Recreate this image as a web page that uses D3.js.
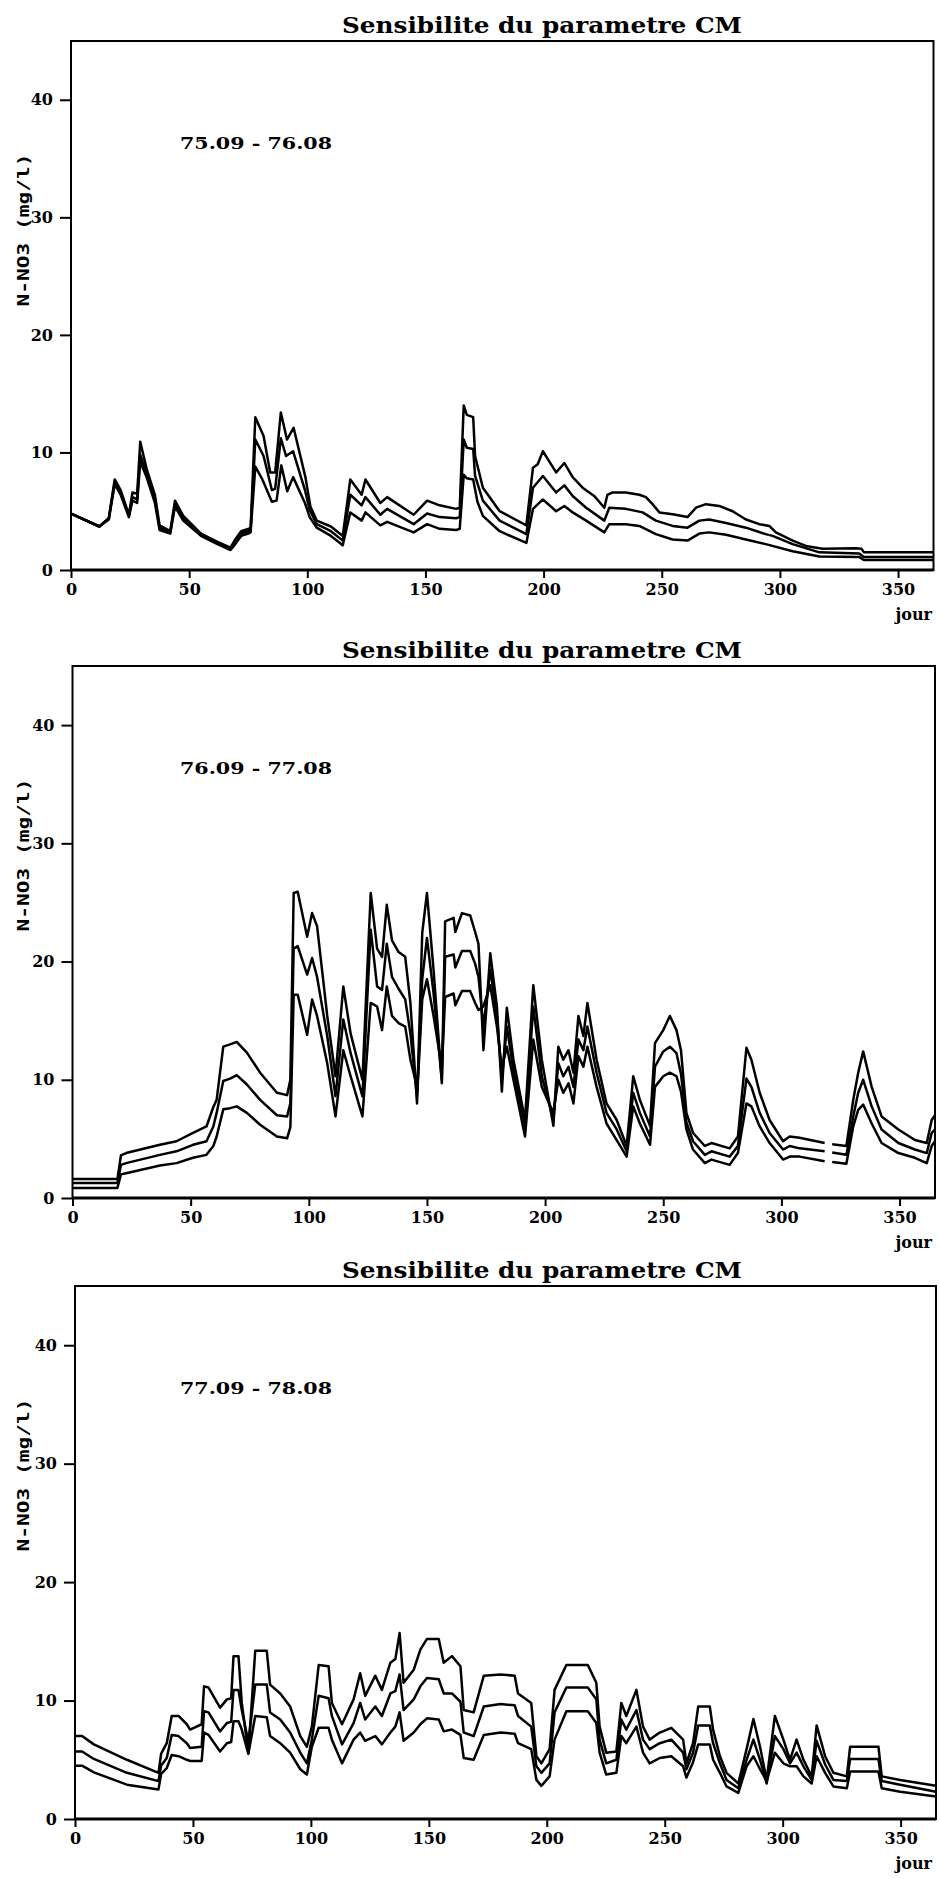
<!DOCTYPE html>
<html><head><meta charset="utf-8">
<script src="https://cdn.jsdelivr.net/npm/d3@7"></script>
<style>body{margin:0;background:#fff}</style>
</head><body>
<svg id="c" width="940" height="1879"></svg>
<script>
const titleText = "Sensibilite du parametre CM";
const yLabel = "N-NO3 (mg/l)";
const xLabel = "jour";
const periods = ["75.09 - 76.08", "76.09 - 77.08", "77.09 - 78.08"];
const xTicks = [0, 50, 100, 150, 200, 250, 300, 350];
const yTicks = [0, 10, 20, 30, 40];

// Panel 1 : 75.09 - 76.08  [jour, N-NO3 mg/l]
const p1High = [[0,4.8],[12,3.7],[16,4.4],[18.5,7.7],[21,6.8],[24.5,4.7],[26,6.6],[28,6.5],[29.3,10.9],[32,8.6],[35.5,6.4],[37.5,3.8],[42,3.3],[44,5.9],[47.5,4.6],[55,3.1],[62,2.4],[67.5,1.9],[69.5,2.6],[72,3.3],[75,3.5],[76,3.5],[78,13.0],[81.5,11.4],[84.3,8.3],[86.4,8.3],[88.8,13.4],[91.4,11.1],[94.2,12.1],[99.2,7.9],[101.3,5.4],[104,4.2],[110,3.7],[115,2.9],[118.2,7.7],[123,6.4],[124.6,7.7],[130.9,5.7],[133.8,6.2],[145,4.7],[150.7,5.9],[156,5.5],[163,5.2],[164.5,5.3],[166.2,14.0],[167.5,13.2],[170.2,13.0],[171,9.7],[174.3,7.0],[181.4,5.0],[192.7,3.8],[195.5,8.7],[197.5,9.0],[199.7,10.1],[205.3,8.3],[208.8,9.1],[212.3,7.9],[216.5,7.0],[221.4,6.3],[225.7,5.3],[227,6.4],[229.2,6.6],[234.8,6.6],[240.5,6.4],[243.3,6.2],[246.1,5.6],[249,4.9],[254.6,4.75],[260.9,4.5],[264.5,5.3],[268.7,5.6],[274.3,5.45],[280,5.0],[285.6,4.3],[291.3,3.9],[295.5,3.75],[298.3,3.2],[305.4,2.5],[311,2.05],[318,1.8],[332,1.85],[334.5,1.8],[335.6,1.5],[365,1.5]];
const p1Mid = [[0,4.8],[12,3.7],[16,4.4],[18.5,7.5],[21,6.6],[24.5,4.6],[26,6.2],[28,6.0],[29.3,9.8],[32,8.2],[35.5,6.0],[37.5,3.6],[42,3.2],[44,5.6],[47.5,4.4],[55,3.0],[62,2.3],[67.5,1.8],[69.5,2.4],[72,3.1],[75,3.3],[76,3.3],[78,11.1],[81.5,9.7],[85,6.8],[86.4,6.9],[88.8,11.2],[91,9.7],[94,10.1],[99,6.8],[101,5.1],[104,3.9],[110,3.3],[115,2.5],[118.2,6.4],[123,5.5],[124.6,6.2],[130.9,4.7],[133.8,5.2],[145,3.9],[150.7,4.8],[156,4.5],[163,4.4],[164.5,4.5],[166.2,11.1],[167.5,10.4],[170.2,10.3],[171,8.0],[174.3,5.9],[181.4,4.2],[192.7,3.05],[195.5,7.0],[199.7,8.0],[205.3,6.6],[208.8,7.2],[212.3,6.3],[218,5.3],[225.7,4.2],[227.8,5.3],[234.8,5.2],[241.9,4.9],[247.5,4.2],[254.6,3.75],[260.9,3.6],[265.9,4.2],[270.1,4.3],[277.2,4.0],[285.6,3.6],[294,3.05],[296.9,2.9],[305.4,2.2],[316.7,1.5],[333.6,1.4],[335.5,1.1],[365,1.1]];
const p1Low = [[0,4.8],[12,3.7],[16,4.3],[18.5,7.3],[21,6.4],[24.5,4.5],[26,5.9],[28,5.7],[29.3,9.2],[32,7.9],[35.5,5.7],[37.5,3.4],[42,3.1],[44,5.4],[47.5,4.2],[55,2.9],[62,2.2],[67.5,1.7],[69.5,2.2],[72,2.9],[75,3.1],[76,3.2],[78,8.8],[81,7.7],[85,5.8],[87,5.9],[89,8.9],[91.5,6.7],[94,7.9],[99,5.7],[101,4.5],[104,3.6],[110,2.9],[115,2.1],[118.2,4.9],[123,4.2],[124.6,4.9],[130.9,3.8],[133.8,4.1],[145,3.2],[150.7,3.9],[156,3.5],[163,3.4],[164.5,3.5],[166.2,8.1],[167.5,7.8],[170.2,7.7],[172,5.8],[174.3,4.6],[181.4,3.3],[192.7,2.3],[195.5,5.2],[199.7,6.0],[205.3,5.0],[208.8,5.45],[212.3,4.9],[218,4.2],[225.7,3.2],[227.8,3.9],[234.8,3.9],[240.5,3.75],[247.5,3.05],[254.6,2.6],[260.9,2.5],[265.9,3.1],[270.1,3.2],[277.2,3.0],[285.6,2.6],[294,2.2],[305.4,1.6],[316.7,1.15],[333.6,1.1],[335.5,0.85],[365,0.85]];

// Panel 2 : 76.09 - 77.08
const p2High = [[0,1.6],[19,1.6],[20.5,3.6],[22.7,3.8],[37,4.5],[44,4.8],[51,5.5],[56.7,6.05],[59.6,7.7],[61,8.3],[63.8,12.8],[66.7,13.0],[69.5,13.2],[73.8,12.3],[79.4,10.6],[86.5,8.9],[90.8,8.7],[92.2,10],[93.6,25.8],[95.3,25.9],[99.3,22.1],[101.4,24.1],[103.5,23.0],[107.8,15.4],[111.3,10.3],[114.6,17.9],[117.7,13.9],[122.7,10.0],[126.2,25.8],[128.9,21.1],[131,20.4],[133,24.8],[135.2,21.8],[138,20.8],[140.8,20.4],[143,16.5],[145.8,8.0],[148,22.4],[150,25.8],[152.8,19.3],[156.3,9.7],[157.7,23.4],[161.3,23.7],[162,22.5],[164.8,24.1],[168.3,23.9],[170.4,22.5],[171.8,21.5],[173.9,12.5],[176.8,20.7],[179.6,16.2],[181.7,9.0],[183.8,16.1],[186.6,11.7],[191.5,6.6],[195,18.0],[198.6,11.7],[203.5,6.1],[205.6,12.8],[207.7,11.7],[209.9,12.5],[212,10.6],[214.1,15.4],[216.2,13.7],[217.9,16.5],[221.8,11.7],[226,8.0],[230.3,6.6],[234.5,4.4],[237.3,10.3],[240.1,8.3],[244.4,6.1],[246.5,13.1],[250,14.2],[252.8,15.4],[255.6,14.2],[257.5,12.5],[259.8,7.2],[262.6,5.5],[267.6,4.4],[270.4,4.65],[278.1,4.2],[281.6,5.2],[285.2,12.7],[287.3,11.7],[290.8,8.9],[295,6.6],[300.7,4.8],[303.5,5.2],[307.7,5.1],[318.3,4.65],[319.5,null],[321.5,4.55],[327.5,4.4],[330.4,8.3],[332.5,10.6],[334.6,12.4],[338.2,9.4],[342.4,6.9],[349.5,5.8],[356.5,4.9],[361.5,4.65],[363.6,6.6],[365,7.0]];
const p2Mid = [[0,1.27],[19,1.27],[20.5,2.8],[22.7,2.95],[37,3.65],[44,3.95],[51,4.5],[56.7,4.8],[59.6,6.05],[61,7.2],[63.8,9.9],[66.7,10.1],[69.5,10.4],[73.8,9.6],[79.4,8.3],[86.5,7.0],[90.8,6.9],[92.2,8],[93.6,21.1],[95.3,21.3],[99.3,18.9],[101.4,20.3],[103.5,18.7],[107.8,13.7],[111.3,8.6],[114.6,15.1],[117.7,12.25],[122.7,8.6],[126.2,22.7],[128.9,17.9],[131,17.6],[133,21.5],[135.2,18.7],[138,17.7],[140.8,16.8],[143,13.9],[145.8,8.6],[148,18.5],[150,22.0],[152.8,17.3],[156.3,10.0],[157.7,20.4],[161.3,20.6],[162,19.5],[164.8,20.9],[168.3,20.9],[170.4,19.8],[171.8,18.7],[173.9,14.5],[176.8,19.3],[179.6,15.4],[181.7,10.0],[183.8,14.5],[186.6,10.8],[191.5,6.1],[195,16.2],[198.6,10.3],[203.5,6.6],[205.6,11.4],[207.7,10.3],[209.9,11.1],[212,9.4],[214.1,13.4],[216.2,12.5],[217.9,14.5],[221.8,10.6],[226,7.2],[230.3,5.8],[234.5,3.95],[237.3,8.9],[240.1,7.2],[244.4,5.2],[246.5,11.1],[250,12.4],[252.8,12.8],[255.6,12.25],[257.5,10.5],[259.8,6.4],[262.6,4.8],[267.6,3.65],[270.4,3.95],[278.1,3.5],[281.6,4.4],[285.2,10.1],[287.3,9.4],[290.8,7.2],[295,5.5],[300.7,4.1],[303.5,4.4],[307.7,4.2],[318.3,3.95],[319.5,null],[321.5,3.85],[327.5,3.65],[330.4,6.9],[332.5,8.9],[334.6,10.0],[338.2,7.75],[342.4,5.8],[349.5,4.65],[356.5,4.1],[361.5,3.8],[363.6,5.5],[365,5.8]];
const p2Low = [[0,0.85],[19,0.85],[20.5,2.0],[22.7,2.1],[37,2.75],[44,2.95],[51,3.4],[56.7,3.65],[59.6,4.4],[61,5.2],[63.8,7.5],[66.7,7.6],[69.5,7.75],[73.8,7.2],[79.4,6.2],[86.5,5.2],[90.8,5.05],[92.2,6],[93.6,17.2],[95.3,17.2],[99.3,13.8],[101.4,16.8],[103.5,15.4],[107.8,11.4],[111.3,6.9],[114.6,12.5],[117.7,10.3],[122.7,6.9],[126.2,16.5],[128.9,16.2],[131,14.2],[133,17.9],[135.2,15.4],[138,14.8],[140.8,14.5],[143,11.7],[146,9.2],[148,16.8],[150,18.5],[152.8,15.4],[156.3,11.0],[157.7,17.0],[161.3,17.3],[162,16.3],[164.8,17.5],[168.3,17.5],[170.4,16.5],[171.8,15.9],[173.9,16.2],[176.8,18.0],[179.6,14.5],[181.7,11.0],[183.8,12.8],[186.6,10.0],[191.5,5.2],[195,13.4],[198.6,9.4],[203.5,7.2],[205.6,10.0],[207.7,8.9],[209.9,9.7],[212,8.0],[214.1,12.0],[216.2,11.1],[217.9,12.8],[221.8,9.4],[226,6.3],[230.3,4.9],[234.5,3.5],[237.3,7.75],[240.1,6.3],[244.4,4.5],[246.5,9.4],[250,10.3],[252.8,10.6],[255.6,10.3],[257.5,9.0],[259.8,5.8],[262.6,4.1],[267.6,2.95],[270.4,3.25],[278.1,2.8],[281.6,3.8],[285.2,8.0],[287.3,7.75],[290.8,6.05],[295,4.65],[300.7,3.25],[303.5,3.5],[307.7,3.5],[318.3,3.1],[319.5,null],[321.5,3.05],[327.5,2.9],[330.4,6.05],[332.5,7.45],[334.6,7.9],[338.2,6.3],[342.4,4.65],[349.5,3.8],[356.5,3.4],[361.5,2.95],[363.6,4.4],[365,4.8]];

// Panel 3 : 77.09 - 78.08
const p3High = [[0,7.0],[3,7.0],[8,6.3],[22,5.0],[35.4,3.9],[36.5,5.5],[38.9,6.4],[41,8.7],[43.9,8.7],[47.4,8.0],[48.8,7.55],[53.7,8.0],[54.7,11.2],[56.6,11.1],[61.5,9.4],[64.4,10.1],[66.2,10.2],[67.2,13.75],[69.3,13.75],[70.7,9.8],[73.5,5.6],[76.4,14.2],[81.3,14.2],[82.7,11.35],[87,10.6],[91.2,9.5],[95.5,7.0],[98.3,6.1],[100.4,7.8],[103.3,13.0],[107.5,12.9],[108.9,9.8],[113.2,8.0],[118.1,10.1],[120.9,12.3],[123,10.4],[127.3,12.1],[130.1,10.9],[133.7,13.2],[135.8,13.5],[137.6,15.7],[139.3,11.5],[143.6,12.6],[146.4,14.3],[149.2,15.2],[154.2,15.2],[156.3,13.2],[159.8,13.75],[163.4,12.9],[164.8,9.2],[169,9.0],[173.3,12.1],[180.4,12.2],[186.4,12.1],[187.8,10.6],[193.4,9.8],[195.6,5.3],[197.7,4.7],[201.2,5.9],[203.3,10.9],[208.3,13.0],[217.4,13.0],[221,11.5],[222.4,7.8],[225.2,5.6],[229.5,5.7],[231.6,9.8],[233.7,8.7],[238,10.9],[240.8,7.8],[243.6,6.7],[247.9,7.3],[252.8,7.7],[257.8,6.7],[259.2,4.7],[262,6.4],[264.2,9.5],[269.1,9.5],[270.5,7.55],[273.4,5.3],[276.2,3.9],[281.2,3.0],[284.7,5.9],[287.6,8.45],[290.4,6.1],[293.2,3.3],[296.7,8.7],[300.3,6.7],[303.1,5.0],[305.9,6.7],[308.8,5.0],[312.3,3.6],[314.4,7.9],[318,5.3],[321.5,3.9],[327.2,3.6],[328.6,6.1],[340.6,6.1],[342,3.6],[349.8,3.3],[365,2.8]];
const p3Mid = [[0,5.7],[3,5.7],[8,5.07],[22,3.9],[35.4,3.2],[36.5,4.5],[38.9,5.15],[41,7.1],[43.9,7.0],[47.4,6.4],[48.8,6.0],[53.7,6.1],[54.7,9.1],[56.6,9.0],[61.5,7.4],[64.4,8.1],[66.2,8.2],[67.2,10.9],[69.3,10.9],[70.7,9.2],[73.5,6.5],[76.4,11.35],[81.3,11.35],[82.7,9.0],[87,8.4],[91.2,7.3],[95.5,5.6],[98.3,4.7],[100.4,6.7],[103.3,10.4],[107.5,10.2],[108.9,8.7],[113.2,6.3],[118.1,8.1],[120.9,9.8],[123,8.4],[127.3,9.5],[130.1,8.7],[133.7,10.6],[135.8,10.8],[137.6,12.2],[139.3,9.2],[143.6,10.1],[146.4,11.2],[149.2,11.9],[154.2,11.8],[156.3,10.6],[159.8,10.6],[163.4,9.9],[164.8,7.3],[169,7.0],[173.3,9.5],[180.4,9.7],[186.4,9.6],[187.8,8.7],[193.4,7.8],[195.6,4.45],[197.7,3.9],[201.2,4.7],[203.3,9.0],[208.3,11.1],[217.4,11.1],[221,10.1],[222.4,6.7],[225.2,4.7],[229.5,5.0],[231.6,8.4],[233.7,7.55],[238,9.2],[240.8,6.7],[243.6,5.9],[247.9,6.4],[252.8,6.7],[257.8,5.6],[259.2,4.2],[262,5.6],[264.2,7.9],[269.1,7.9],[270.5,6.4],[273.4,4.7],[276.2,3.3],[281.2,2.6],[284.7,5.0],[287.6,6.7],[290.4,5.0],[293.2,3.0],[296.7,7.0],[300.3,5.9],[303.1,4.7],[305.9,5.6],[308.8,4.45],[312.3,3.3],[314.4,6.6],[318,4.6],[321.5,3.3],[327.2,3.2],[328.6,5.07],[340.6,5.07],[342,3.2],[349.8,2.9],[365,2.3]];
const p3Low = [[0,4.5],[3,4.5],[8,3.94],[22,2.9],[35.4,2.5],[36.5,3.8],[38.9,4.3],[41,5.4],[43.9,5.3],[47.4,5.0],[48.8,4.9],[53.7,4.9],[54.7,7.3],[56.6,7.1],[61.5,5.7],[64.4,6.4],[66.2,6.5],[67.2,8.25],[69.3,8.25],[70.7,7.55],[73.5,5.5],[76.4,8.7],[81.3,8.6],[82.7,7.0],[87,6.4],[91.2,5.6],[95.5,4.2],[98.3,3.75],[100.4,6.1],[103.3,7.7],[107.5,7.7],[108.9,6.7],[113.2,4.7],[118.1,6.7],[120.9,7.3],[123,6.6],[127.3,7.0],[130.1,6.3],[133.7,7.3],[135.8,7.8],[137.6,9.0],[139.3,6.6],[143.6,7.3],[146.4,8.0],[149.2,8.5],[154.2,8.4],[156.3,7.4],[159.8,7.55],[163.4,7.1],[164.8,5.15],[169,5.0],[173.3,7.1],[180.4,7.3],[186.4,7.2],[187.8,6.4],[193.4,5.9],[195.6,3.3],[197.7,2.8],[201.2,3.6],[203.3,6.7],[208.3,9.1],[217.4,9.1],[221,8.1],[222.4,5.6],[225.2,3.75],[229.5,3.9],[231.6,7.0],[233.7,6.4],[238,7.8],[240.8,5.6],[243.6,4.7],[247.9,5.15],[252.8,5.3],[257.8,4.45],[259.2,3.5],[262,4.8],[264.2,6.3],[269.1,6.3],[270.5,5.0],[273.4,3.9],[276.2,2.75],[281.2,2.2],[284.7,4.45],[287.6,5.3],[290.4,4.2],[293.2,3.2],[296.7,5.6],[300.3,4.7],[303.1,4.45],[305.9,4.45],[308.8,3.6],[312.3,3.0],[314.4,5.3],[318,3.9],[321.5,2.75],[327.2,2.6],[328.6,4.0],[340.6,4.0],[342,2.6],[349.8,2.3],[365,1.9]];

const panelSeries = [[p1Low, p1Mid, p1High], [p2Low, p2Mid, p2High], [p3Low, p3Mid, p3High]];

// layout (pixels)
const layout = [
  {x0: 71,   x1: 933.5, top: 41,   bottom: 570},
  {x0: 72.5, x1: 935,   top: 666,  bottom: 1198},
  {x0: 75,   x1: 936,   top: 1286, bottom: 1819}
];

const svg = d3.select("#c");
const serif = "'DejaVu Serif', serif";

layout.forEach((L, i) => {
  const x = d3.scaleLinear().domain([0, 365]).range([L.x0, L.x1]);
  const y = d3.scaleLinear().domain([0, 45]).range([L.bottom, L.top]);
  const g = svg.append("g");

  // title
  g.append("text").attr("x", 542).attr("y", L.top - 8)
    .attr("text-anchor", "middle")
    .attr("font-family", serif).attr("font-weight", "bold").attr("font-size", 23)
    .attr("textLength", 400).attr("lengthAdjust", "spacingAndGlyphs")
    .text(titleText);

  // axes
  const xa = g.append("g").attr("transform", `translate(0,${L.bottom})`)
    .call(d3.axisBottom(x).tickValues(xTicks).tickSize(8).tickPadding(6));
  const ya = g.append("g").attr("transform", `translate(${L.x0},0)`)
    .call(d3.axisLeft(y).tickValues(yTicks).tickSize(11).tickPadding(7));
  [xa, ya].forEach(a => {
    a.select(".domain").remove();
    a.selectAll(".tick line").attr("stroke", "#000").attr("stroke-width", 2);
    a.selectAll(".tick text").attr("fill", "#000")
      .attr("font-family", serif).attr("font-weight", "bold").attr("font-size", 16);
  });

  // frame
  g.append("rect").attr("x", L.x0).attr("y", L.top)
    .attr("width", x(365) - L.x0).attr("height", L.bottom - L.top)
    .attr("fill", "none").attr("stroke", "#000").attr("stroke-width", 2);
  g.append("line").attr("x1", L.x0).attr("x2", x(365))
    .attr("y1", y(0)).attr("y2", y(0)).attr("stroke", "#000").attr("stroke-width", 3);

  // series
  const line = d3.line().defined(d => d[1] != null).x(d => x(d[0])).y(d => y(d[1]));
  panelSeries[i].forEach(s => {
    g.append("path").datum(s).attr("d", line)
      .attr("fill", "none").attr("stroke", "#000").attr("stroke-width", 2.5)
      .attr("stroke-linejoin", "round");
  });

  // period label
  g.append("text").attr("x", 180).attr("y", L.top + 108)
    .attr("font-family", serif).attr("font-weight", "bold").attr("font-size", 16)
    .attr("textLength", 152).attr("lengthAdjust", "spacingAndGlyphs")
    .text(periods[i]);

  // y label
  g.append("text").attr("transform", `translate(29,${L.top + 189}) rotate(-90)`)
    .attr("text-anchor", "middle")
    .attr("font-family", "'DejaVu Sans Mono', monospace").attr("font-weight", "bold").attr("font-size", 16)
    .attr("textLength", 153).attr("lengthAdjust", "spacingAndGlyphs")
    .text(yLabel);

  // x label
  g.append("text").attr("x", 932).attr("y", L.bottom + 50)
    .attr("text-anchor", "end")
    .attr("font-family", serif).attr("font-weight", "bold").attr("font-size", 16)
    .text(xLabel);
});
</script>
</body></html>
